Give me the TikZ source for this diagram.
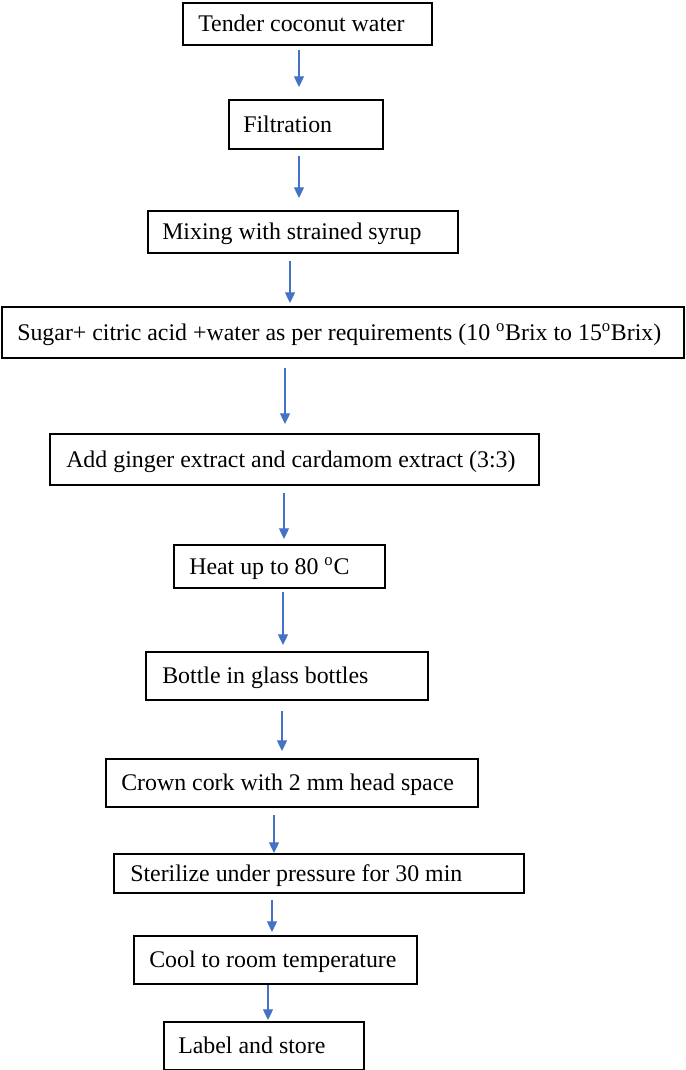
\documentclass[tikz,border=0pt]{standalone}
\usepackage{fontspec}
\setmainfont{Liberation Serif}
\usetikzlibrary{arrows.meta}
\definecolor{arrblue}{HTML}{4472C4}
\newcommand\flowbox[7]{%
  \node[box, minimum width={(#4-#2)*0.75pt}, minimum height={(#5-#3)*0.75pt}] (#1) at (#2,#3) {};
  \node[lbl] (#1t) at ([xshift={(#6-#2)*0.75pt}]#1.west) {#7};}
\begin{document}
\begin{tikzpicture}[x=0.75pt,y=-0.75pt,
  box/.style={draw=black, line width=1.3pt, rectangle, inner sep=0pt, anchor=north west},
  lbl/.style={anchor=west, inner sep=0pt, font=\fontsize{17.9pt}{21pt}\selectfont, text height=11.8pt, text depth=0pt},
  arr/.style={draw=arrblue, line width=0.9pt, -{Triangle[width=7.5pt,length=8pt,fill=arrblue]}}]
\useasboundingbox (0,0) rectangle (685,1070);
\flowbox{n1}{182}{2}{431}{44}{198}{Tender coconut water}
\flowbox{n2}{228}{99}{382}{148}{243}{Filtration}
\flowbox{n3}{147}{210}{457}{252}{162}{Mixing with strained syrup}
\flowbox{n4}{1}{306}{683}{357}{17}{Sugar+ citric acid +water as per requirements (10 \textsuperscript{o}Brix to 15\textsuperscript{o}Brix)}
\flowbox{n5}{49}{433}{538}{484}{66}{Add ginger extract and cardamom extract (3:3)}
\flowbox{n6}{173}{544}{384}{587}{189}{Heat up to 80 \textsuperscript{o}C}
\flowbox{n7}{145}{651}{427}{699}{162}{Bottle in glass bottles}
\flowbox{n8}{105}{758}{477}{806}{121}{Crown cork with 2 mm head space}
\flowbox{n9}{113}{853}{523}{892}{130}{Sterilize under pressure for 30 min}
\flowbox{n10}{133}{935}{416}{983}{149}{Cool to room temperature}
\flowbox{n11}{163}{1021}{363}{1069}{178}{Label and store}
\draw[arr] ([shift={(117,4)}]n1.south west) -- ([shift={(71,-12)}]n2.north west);
\draw[arr] ([shift={(71,6)}]n2.south west) -- ([shift={(152,-12)}]n3.north west);
\draw[arr] ([shift={(143,7)}]n3.south west) -- ([shift={(289,-3)}]n4.north west);
\draw[arr] ([shift={(284,9)}]n4.south west) -- ([shift={(236,-9)}]n5.north west);
\draw[arr] ([shift={(235,7)}]n5.south west) -- ([shift={(111,-5)}]n6.north west);
\draw[arr] ([shift={(110,3)}]n6.south west) -- ([shift={(138,-6)}]n7.north west);
\draw[arr] ([shift={(137,10)}]n7.south west) -- ([shift={(177,-7)}]n8.north west);
\draw[arr] ([shift={(169,7)}]n8.south west) -- ([shift={(161,0)}]n9.north west);
\draw[arr] ([shift={(159,6)}]n9.south west) -- ([shift={(139,-3)}]n10.north west);
\draw[arr] ([shift={(135,0)}]n10.south west) -- ([shift={(105,-1)}]n11.north west);
\end{tikzpicture}
\end{document}
